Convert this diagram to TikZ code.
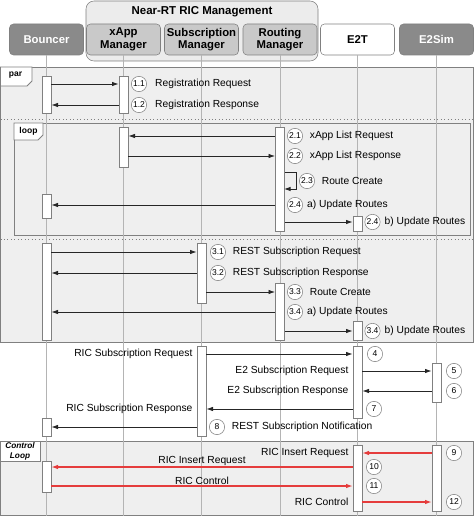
\documentclass[tikz,border=0pt]{standalone}
\usepackage{fontspec}
\setmainfont{Liberation Sans}
\usetikzlibrary{positioning, fit, arrows.meta}

\definecolor{partdark}{HTML}{8A8A8A}
\definecolor{partmid}{HTML}{C9C9C9}
\definecolor{grpbg}{HTML}{ECECEC}
\definecolor{framebg}{HTML}{EFEFEF}
\definecolor{edgegray}{HTML}{808080}
\definecolor{lifegray}{HTML}{B4B4B4}
\definecolor{msgdark}{HTML}{262626}
\definecolor{msgred}{HTML}{E53C3C}

\begin{document}
\begin{tikzpicture}[x=0.75pt,y=0.75pt,yscale=-1,xscale=1,
    part/.style={draw=edgegray, rounded corners=3pt, minimum width=55.5pt, minimum height=23.25pt, inner sep=1pt, align=center, font=\bfseries\fontsize{8.5}{9.6}\selectfont},
    darkpart/.style={part, fill=partdark, text=white},
    midpart/.style={part, fill=partmid},
    grp/.style={draw=edgegray, fill=grpbg, rounded corners=6pt, inner sep=0pt},
    frame/.style={draw=edgegray, fill=framebg, line width=0.6pt},
    sep/.style={draw=edgegray, dotted, line width=0.6pt},
    tab/.style={draw=edgegray, fill=white, line width=0.6pt},
    tablbl/.style={inner sep=0pt, align=center, font=\bfseries\fontsize{6.4}{7.5}\selectfont},
    life/.style={draw=lifegray, line width=0.5pt},
    act/.style={draw=edgegray, fill=white, inner sep=0pt, line width=0.5pt},
    num/.style={circle, draw=edgegray, fill=white, minimum size=11.5pt, inner sep=0pt, font=\fontsize{6.4}{7}\selectfont},
    lbl/.style={inner sep=1pt, font=\fontsize{7.7}{9}\selectfont},
    msg/.style={draw=msgdark, line width=0.65pt, -{Latex[length=5pt,width=3.4pt]}},
    redmsg/.style={msg, draw=msgred, color=msgred, line width=0.8pt},
    node distance=4pt]
    \useasboundingbox (0,0) rectangle (474,516);

    % Frames
    \draw[frame] (0.5,67) rectangle (473.5,342);
    \draw[sep] (0.5,119) -- (473.5,119);
    \draw[sep] (0.5,239) -- (473.5,239);
    \draw[frame] (14,123) rectangle (470,235);
    \draw[frame] (0.5,441) rectangle (473.5,515);

    % Near-RT RIC group
    \node[grp, fit={(86,1) (318,61)}] (nrtric) {};
    \node[font=\bfseries\fontsize{8.6}{10}\selectfont] (nrttitle) at (202,12) {Near-RT RIC Management};

    % Participants
    \node[darkpart] (bouncer) at (46.5,39.5) {Bouncer};
    \node[midpart] (xappmgr) at (123.5,39.5) {xApp\\Manager};
    \node[midpart] (submgr) at (201.5,39.5) {Subscription\\Manager};
    \node[midpart] (rtmgr) at (280,39.5) {Routing\\Manager};
    \node[part, fill=white] (e2t) at (357.5,39.5) {E2T};
    \node[darkpart] (e2sim) at (436.5,39.5) {E2Sim};

    % Lifelines
    \draw[life] (bouncer.south) -- ++(0,461);
    \draw[life] (xappmgr.south) -- ++(0,461);
    \draw[life] (submgr.south) -- ++(0,461);
    \draw[life] (rtmgr.south) -- ++(0,461);
    \draw[life] (e2t.south) -- ++(0,461);
    \draw[life] (e2sim.south) -- ++(0,461);

    % Frame tabs
    \draw[tab] (0.5,67) -- (32,67) -- (32,81) -- (27,86) -- (0.5,86) -- cycle;
    \node[tablbl] (partab) at (15.5,75.5) {par};
    \draw[tab] (14,123) -- (43,123) -- (43,135) -- (38,140) -- (14,140) -- cycle;
    \node[tablbl] (looptab) at (28.5,131) {loop};
    \draw[tab] (0.5,441) rectangle (40,461);
    \node[tablbl, font=\bfseries\itshape\fontsize{6.2}{7.4}\selectfont] (ctltab) at (20,451) {Control\\Loop};

    % Activations
    \node[act, fit={(42,76) (51,113)}] (bA1) {};
    \node[act, fit={(119,76) (128,113)}] (xA1) {};
    \node[act, fit={(119,127) (128,167)}] (xA2) {};
    \node[act, fit={(275.5,127) (284.5,231)}] (rA2) {};
    \node[act, fit={(42,194) (51,218)}] (bA2) {};
    \node[act, fit={(353,216) (362,231)}] (eA2) {};
    \node[act, fit={(42,243) (51,340)}] (bA3) {};
    \node[act, fit={(197,243) (206,303)}] (sA3) {};
    \node[act, fit={(275.5,283) (284.5,340)}] (rA3) {};
    \node[act, fit={(353,321) (362,340)}] (eA3) {};
    \node[act, fit={(197,346) (206,436)}] (sA4) {};
    \node[act, fit={(353,346) (362,418)}] (eA4) {};
    \node[act, fit={(432,363) (441,402)}] (gA4) {};
    \node[act, fit={(42,418) (51,436)}] (bA4) {};
    \node[act, fit={(353,445) (362,511)}] (eA5) {};
    \node[act, fit={(432,445) (441,511)}] (gA5) {};
    \node[act, fit={(42,461) (51,492)}] (bA5) {};

    % Registration
    \node[num] (n11) at (139,84) {1.1};
    \node[lbl, right=5pt of n11] (t11) {Registration Request};
    \draw[msg] (bA1.east |- n11) -- (xA1.west |- n11);
    \node[num] (n12) at (139,105) {1.2};
    \node[lbl, right=5pt of n12] (t12) {Registration Response};
    \draw[msg] (xA1.west |- n12) -- (bA1.east |- n12);

    % Routes loop
    \node[num] (n21) at (295,136) {2.1};
    \node[lbl, right=of n21] (t21) {xApp List Request};
    \draw[msg] (rA2.west |- n21) -- (xA2.east |- n21);
    \node[num] (n22) at (295,156) {2.2};
    \node[lbl, right=of n22] (t22) {xApp List Response};
    \draw[msg] (xA2.east |- n22) -- (rA2.west |- n22);
    \node[num] (n23) at (307,181) {2.3};
    \node[lbl, right=of n23] (t23) {Route Create};
    \coordinate (l23) at (296,172);
    \draw[msg] (rA2.east |- l23) -- (l23) -- ++(0,17) -- ++(-12,0);
    \node[num] (n24a) at (295,205) {2.4};
    \node[lbl, right=2pt of n24a] (t24a) {a) Update Routes};
    \draw[msg] (rA2.west |- n24a) -- (bA2.east |- n24a);
    \node[num] (n24b) at (372.5,222) {2.4};
    \node[lbl, right=2pt of n24b] (t24b) {b) Update Routes};
    \draw[msg] (rA2.east |- n24b) -- (eA2.west |- n24b);

    % REST subscription
    \node[num] (n31) at (218,252) {3.1};
    \node[lbl, right=of n31] (t31) {REST Subscription Request};
    \draw[msg] (bA3.east |- n31) -- (sA3.west |- n31);
    \node[num] (n32) at (218,273) {3.2};
    \node[lbl, right=of n32] (t32) {REST Subscription Response};
    \draw[msg] (sA3.west |- n32) -- (bA3.east |- n32);
    \node[num] (n33) at (295,292) {3.3};
    \node[lbl, right=of n33] (t33) {Route Create};
    \draw[msg] (sA3.east |- n33) -- (rA3.west |- n33);
    \node[num] (n34a) at (295,312) {3.4};
    \node[lbl, right=2pt of n34a] (t34a) {a) Update Routes};
    \draw[msg] (rA3.west |- n34a) -- (bA3.east |- n34a);
    \node[num] (n34b) at (372.5,331) {3.4};
    \node[lbl, right=2pt of n34b] (t34b) {b) Update Routes};
    \draw[msg] (rA3.east |- n34b) -- (eA3.west |- n34b);

    % RIC subscription
    \node[num] (n4) at (375,354) {4};
    \node[lbl, anchor=east, inner xsep=3pt] (t4) at (sA4.west |- n4) {RIC Subscription Request};
    \draw[msg] (sA4.east |- n4) -- (eA4.west |- n4);
    \node[num] (n5) at (454,371) {5};
    \node[lbl, anchor=east, inner xsep=3pt] (t5) at (eA4.west |- n5) {E2 Subscription Request};
    \draw[msg] (eA4.east |- n5) -- (gA4.west |- n5);
    \node[num] (n6) at (454,391) {6};
    \node[lbl, anchor=east, inner xsep=3pt] (t6) at (eA4.west |- n6) {E2 Subscription Response};
    \draw[msg] (gA4.west |- n6) -- (eA4.east |- n6);
    \node[num] (n7) at (374,409) {7};
    \node[lbl, anchor=east, inner xsep=3pt] (t7) at (sA4.west |- n7) {RIC Subscription Response};
    \draw[msg] (eA4.west |- n7) -- (sA4.east |- n7);
    \node[num] (n8) at (217,427) {8};
    \node[lbl, right=of n8] (t8) {REST Subscription Notification};
    \draw[msg] (sA4.west |- n8) -- (bA4.east |- n8);

    % Control loop
    \node[num] (n9) at (454,453) {9};
    \node[lbl, anchor=east, inner xsep=3pt] (t9) at (eA5.west |- n9) {RIC Insert Request};
    \draw[redmsg] (gA5.west |- n9) -- (eA5.east |- n9);
    \node[num] (n10) at (374,467) {10};
    \draw[redmsg] (eA5.west |- n10) -- node[lbl, above, text=black] (t10) {RIC Insert Request} (bA5.east |- n10);
    \node[num] (n11c) at (374,486) {11};
    \draw[redmsg] (bA5.east |- n11c) -- node[lbl, above, text=black] (t11c) {RIC Control} (eA5.west |- n11c);
    \node[num] (n12c) at (454,502) {12};
    \node[lbl, anchor=east, inner xsep=3pt] (t12c) at (eA5.west |- n12c) {RIC Control};
    \draw[redmsg] (eA5.east |- n12c) -- (gA5.west |- n12c);

\end{tikzpicture}
\end{document}
